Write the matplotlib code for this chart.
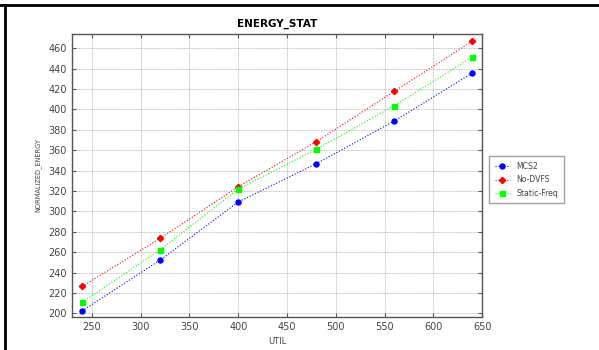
import matplotlib.pyplot as plt
from matplotlib.lines import Line2D

# data
util = [240, 320, 400, 480, 560, 640]
mcs2 = [202.5, 252.3, 309.2, 346.8, 388.7, 435.8]
no_dvfs = [226.5, 273.6, 324.2, 368.4, 417.8, 467.0]
static_freq = [210.8, 262.4, 322.0, 360.9, 403.7, 451.5]

xticks = [250, 300, 350, 400, 450, 500, 550, 600, 650]
yticks = [200, 220, 240, 260, 280, 300, 320, 340, 360, 380, 400, 420, 440, 460]

fig = plt.figure(figsize=(5.99, 3.5), dpi=100)
ax = fig.add_axes([0.120, 0.095, 0.685, 0.808])

ax.plot(util, mcs2, color='blue', ls=':', lw=0.8, marker='o', ms=3.6, label='MCS2')
ax.plot(util, no_dvfs, color='red', ls=':', lw=0.8, marker='D', ms=3.2, label='No-DVFS')
ax.plot(util, static_freq, color='#00ff00', ls=':', lw=0.8, marker='s', ms=3.6, label='Static-Freq')

ax.set_xlim(229.5, 650)
ax.set_ylim(196.7, 474)
ax.set_xticks(xticks)
ax.set_yticks(yticks)
ax.grid(True, ls=(0, (1, 1)), color='#aaaaaa', lw=0.6)
ax.tick_params(direction='in', top=True, right=True, labelsize=7, labelcolor='#444444',
               length=3, color='#555555')
for s in ax.spines.values():
    s.set_color('#555555')
    s.set_linewidth(1.0)

ax.set_title('ENERGY_STAT', fontsize=7.5, fontweight='bold', pad=5)
ax.set_xlabel('UTIL', fontsize=6, color='#444444', labelpad=4)
ax.set_ylabel('NORMALIZED_ENERGY', fontsize=5.3, color='#444444', labelpad=5, fontstretch='condensed')

leg = ax.legend(loc='upper left', bbox_to_anchor=(1.017, 0.568), borderaxespad=0, fontsize=5.6,
                frameon=True, fancybox=False, edgecolor='#888888', borderpad=0.7,
                labelspacing=0.6, handlelength=2.0, handletextpad=0.8)
for t in leg.get_texts():
    t.set_color('#444444')

# black frame lines on top and left of the picture
fig.add_artist(Line2D([0, 1], [0.987, 0.987], color='black', lw=2, transform=fig.transFigure))
fig.add_artist(Line2D([0.008, 0.008], [0, 0.987], color='black', lw=2, transform=fig.transFigure))

fig.savefig('out.png', dpi=100)
